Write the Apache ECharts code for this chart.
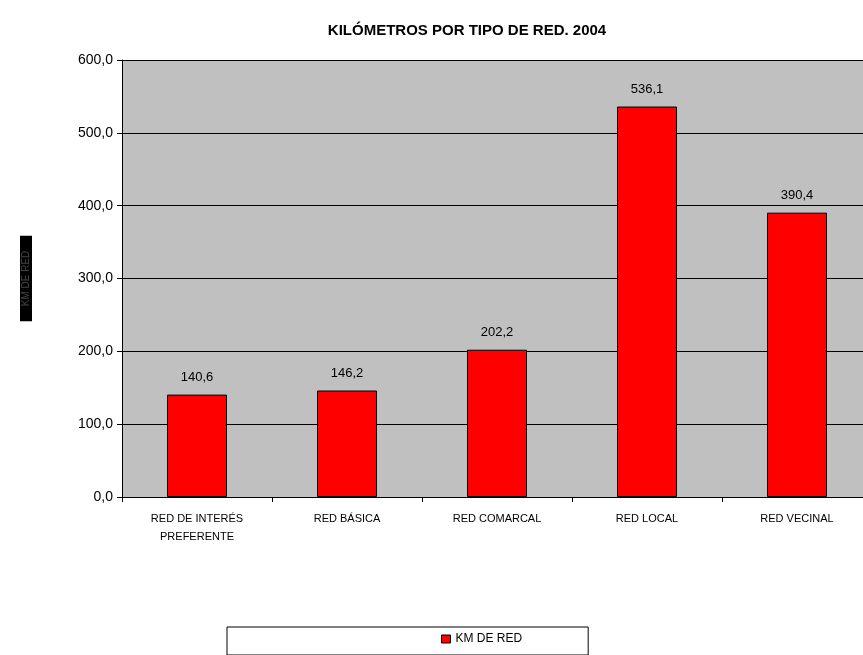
<!DOCTYPE html>
<html><head><meta charset="utf-8">
<script src="https://cdn.jsdelivr.net/npm/echarts@6/dist/echarts.min.js"></script>
<style>html,body{margin:0;padding:0;background:#fff;overflow:hidden}#c{width:880px;height:655px}</style>
</head><body><div id="c"></div>
<script>
const categories = ['RED DE INTERÉS\nPREFERENTE', 'RED BÁSICA', 'RED COMARCAL', 'RED LOCAL', 'RED VECINAL'];
const kmValues = [140.6, 146.2, 202.2, 536.1, 390.4];
const seriesName = 'KM DE RED';
const fmt = v => v.toFixed(1).replace('.', ',');
const chart = echarts.init(document.getElementById('c'));
chart.setOption({
  animation: false,
  textStyle: { fontFamily: 'Liberation Sans, Arial, sans-serif' },
  title: {
    text: 'KILÓMETROS POR TIPO DE RED. 2004',
    left: 462, top: 18, textAlign: 'center',
    textStyle: { fontSize: 15, fontWeight: 'bold', color: '#000' }
  },
  grid: { left: 122, top: 60, width: 750, height: 437, backgroundColor: '#c0c0c0', show: true, borderWidth: 0 },
  legend: {
    left: 227, top: 627,
    padding: [6, 66, 10, 214],
    borderColor: '#000', borderWidth: 1,
    itemWidth: 9, itemHeight: 8, itemGap: 4,
    textStyle: { fontSize: 12, color: '#000', letterSpacing: -0.5 },
    data: [{ name: seriesName, icon: 'rect', itemStyle: { borderColor: '#000', borderWidth: 1 } }]
  },
  xAxis: {
    type: 'category', data: categories,
    axisLine: { lineStyle: { color: '#000', width: 1 } },
    axisTick: { show: true, length: 5, lineStyle: { color: '#000' } },
    axisLabel: { fontSize: 11, color: '#000', margin: 13, lineHeight: 18, interval: 0, letterSpacing: 0.7 }
  },
  yAxis: {
    type: 'value', min: 0, max: 600, interval: 100,
    name: 'KM DE RED', nameLocation: 'middle', nameRotate: 90, nameGap: 90,
    nameTextStyle: { fontSize: 10, color: '#444', backgroundColor: '#000', padding: [1, 15, 1, 15] },
    axisLine: { show: true, lineStyle: { color: '#000' } },
    axisTick: { show: true, length: 5, lineStyle: { color: '#000' } },
    axisLabel: { fontSize: 14, color: '#000', margin: 9, formatter: fmt },
    splitLine: { show: true, lineStyle: { color: '#000', width: 1 } }
  },
  series: [{
    name: seriesName, type: 'bar', data: kmValues, barWidth: 60,
    itemStyle: { color: '#ff0000', borderColor: '#000', borderWidth: 1 },
    label: { show: true, position: 'top', distance: 11, fontSize: 13, color: '#000', formatter: p => fmt(p.value) }
  }]
});
</script></body></html>
